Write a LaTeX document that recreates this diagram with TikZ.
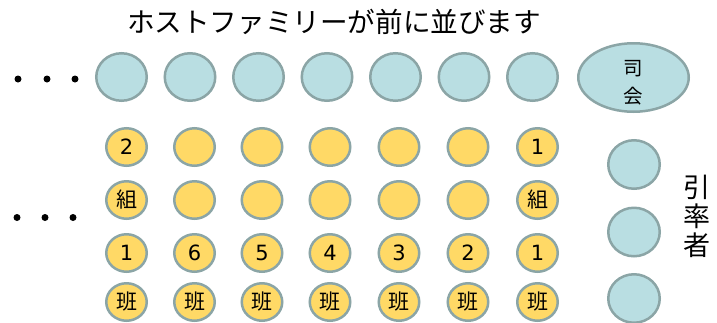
\documentclass[tikz,border=0pt]{standalone}
\usepackage{fontspec}
\setmainfont{Noto Sans CJK JP}
\newfontfamily\digitfont{DejaVu Sans}
\usetikzlibrary{shapes.geometric}
\definecolor{famblue}{HTML}{B9DEE2}
\definecolor{edgegray}{HTML}{8BA5A6}
\definecolor{stuyellow}{HTML}{FFD966}
\tikzset{
  seat/.style={ellipse, draw=edgegray, line width=2.5pt, inner sep=0pt, outer sep=0pt},
  family/.style={seat, fill=famblue, minimum width=50.5pt, minimum height=47.5pt},
  escort/.style={seat, fill=famblue, minimum width=51.5pt, minimum height=48.5pt},
  host/.style={seat, fill=famblue, minimum width=110.5pt, minimum height=68.5pt},
  student/.style={seat, fill=stuyellow, minimum width=40.5pt, minimum height=37.5pt},
  dotmark/.style={circle, fill=black, inner sep=0pt, minimum size=7pt},
  kan/.style={font=\fontsize{21}{21}\selectfont},
  num/.style={font=\fontsize{21}{21}\selectfont\digitfont},
}
\begin{document}
\begin{tikzpicture}[x=1pt,y=-1pt]
\useasboundingbox (0,0) rectangle (717,322);
% title
\node[font=\fontsize{27.6}{28}\selectfont, inner sep=0pt] (title) at (334,22) {ホストファミリーが前に並びます};
% left dots
\node[dotmark] (d1) at (18,79) {};
\node[dotmark] (d2) at (47,79) {};
\node[dotmark] (d3) at (75,79) {};
\node[dotmark] (d4) at (17,217.5) {};
\node[dotmark] (d5) at (45,217.5) {};
\node[dotmark] (d6) at (73,217.5) {};
% host families
\foreach \i/\x in {1/121.5,2/190,3/258.5,4/327,5/395.5,6/464,7/532.5}
  \node[family] (h\i) at (\x,77) {};
% moderator
\node[host] (mc) at (633.5,77.5) {};
\node[font=\fontsize{19.5}{20}\selectfont, inner sep=0pt] (mc1) at (633.5,69) {司};
\node[font=\fontsize{19.5}{20}\selectfont, inner sep=0pt] (mc2) at (633.5,96.5) {会};
% students
\foreach \c/\x in {1/126.5,2/194.5,3/262,4/330,5/399,6/468,7/537.5}{
  \foreach \r/\y in {1/147,2/200,3/253,4/302}
    \node[student] (s\r\c) at (\x,\y) {};
}
\node[num] at (s11) {2};
\node[num] at (s17) {1};
\node[kan] at (s21) {組};
\node[kan] at (s27) {組};
\foreach \c/\t in {1/1,2/6,3/5,4/4,5/3,6/2,7/1}
  \node[num] at (s3\c) {\t};
\foreach \c in {1,...,7}
  \node[kan] at (s4\c) {班};
% escorts
\node[escort] (e1) at (634,164.5) {};
\node[escort] (e2) at (634,232) {};
\node[escort] (e3) at (634,298.5) {};
\node[font=\fontsize{27}{29}\selectfont, align=center, inner sep=0pt] (esc) at (697,216.5) {引\\率\\者};
\end{tikzpicture}
\end{document}
